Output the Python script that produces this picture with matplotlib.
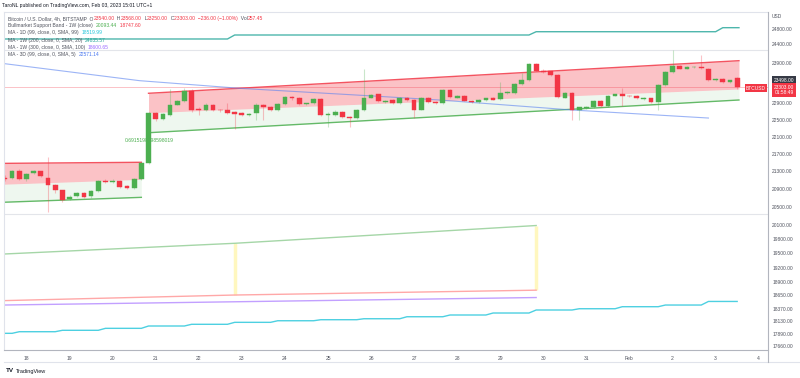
import numpy as np
import pandas as pd
import matplotlib
matplotlib.use('Agg')
import matplotlib.pyplot as plt
from matplotlib.lines import Line2D
from matplotlib.ticker import NullLocator, NullFormatter

plt.rcParams['font.family'] = ['Liberation Sans', 'DejaVu Sans']

# BTCUSD 4h candles (BITSTAMP), first candle Jan 17 12:00
candle_start = '2023-01-17 12:00'
opens = [21140, 21147, 21306, 21110, 21260, 21290, 21140, 20980, 20860, 20665,
         20735, 20800, 20725, 20850, 21070, 21050, 21065, 20950, 20920, 21125,
         21480, 22658, 22530, 22620, 22870, 22950, 23215, 22760, 22738, 22870,
         22740, 22750, 22690, 22670, 22620, 22660, 22860, 22820, 22740, 22880,
         23060, 23040, 22890, 22900, 23000, 22610, 22610, 22690, 22570, 22540,
         22740, 23040, 23120, 22940, 22980, 22910, 23040, 22980, 22750, 23040,
         22940, 22900, 23230, 23040, 23080, 22970, 22940, 22990, 23030, 23010,
         23160, 23160, 23380, 23470, 23880, 23720, 23700, 23610, 23040, 23160,
         22750, 22790, 22800, 22960, 22840, 23090, 23120, 23090, 23080, 23010,
         23020, 22930, 23350, 23690, 23830, 23770, 23800, 23820, 23770, 23470,
         23500, 23420, 23540]
highs = [21200, 21330, 21340, 21260, 21320, 21310, 21620, 21000, 20880, 20760,
         20830, 20830, 20870, 21100, 21120, 21110, 21090, 20990, 21130, 21500,
         22700, 22700, 22660, 23250, 22990, 23280, 23250, 22800, 22900, 22890,
         22760, 22920, 22710, 22690, 22670, 22920, 22880, 22840, 22900, 23090,
         23080, 23060, 22920, 23020, 23020, 22680, 22730, 22710, 22590, 22760,
         23760, 23130, 23140, 22990, 23000, 23060, 23060, 23000, 23060, 23060,
         22960, 23250, 23250, 23100, 23100, 22990, 23000, 23040, 23050, 23420,
         23200, 23400, 23650, 23900, 23920, 23760, 23720, 23630, 23180, 23180,
         22820, 22830, 22980, 22980, 23100, 23140, 23290, 23110, 23100, 23060,
         23040, 23370, 23710, 24250, 23850, 23830, 23840, 24110, 23790, 23520,
         23540, 23490, 23568]
lows = [21080, 21120, 21090, 21080, 21240, 21160, 20380, 20800, 20600, 20640,
        20710, 20700, 20700, 20830, 21030, 21020, 20920, 20890, 20900, 21100,
        21450, 22480, 22500, 22600, 22850, 22930, 22700, 22620, 22720, 22720,
        22700, 22650, 22270, 22600, 22600, 22500, 22500, 22720, 22720, 22860,
        22990, 22860, 22870, 22880, 22590, 22330, 22590, 22550, 22330, 22520,
        22720, 23020, 22930, 22920, 22890, 22890, 22960, 22540, 22730, 22920,
        22880, 22880, 23040, 23020, 22950, 22920, 22920, 22970, 22980, 22990,
        23140, 23140, 23360, 23450, 23700, 23660, 23590, 23030, 23020, 22494,
        22494, 22770, 22780, 22820, 22820, 23070, 22840, 23050, 23000, 22990,
        22910, 22740, 23330, 23670, 23750, 23750, 23780, 23770, 23460, 23450,
        23400, 23400, 23250]
closes = [21110, 21306, 21110, 21231, 21290, 21185, 20980, 20860, 20650, 20720,
          20795, 20720, 20850, 21070, 21055, 21070, 20940, 20920, 21110, 21480,
          22658, 22530, 22630, 22870, 22950, 23215, 22738, 22730, 22870, 22738,
          22735, 22670, 22650, 22620, 22650, 22860, 22810, 22740, 22880, 23060,
          23020, 22880, 22900, 23000, 22610, 22650, 22700, 22570, 22540, 22740,
          23040, 23100, 22950, 22970, 22910, 23040, 22980, 22750, 23040, 22940,
          22900, 23230, 23060, 23080, 22970, 22940, 22980, 23020, 22995, 23160,
          23180, 23380, 23470, 23880, 23720, 23680, 23610, 23060, 23160, 22750,
          22800, 22810, 22960, 22840, 23080, 23120, 23090, 23070, 23020, 23040,
          22930, 23350, 23690, 23830, 23770, 23800, 23820, 23790, 23480, 23500,
          23420, 23470, 23303]
last_close = 23303

# channel drawings (upper / middle / lower edge)
chan1_dates = ['2023-01-17 11:00', '2023-01-20 16:00']
chan1_top = [21474, 21499]
chan1_mid = [20999, 21109]
chan1_bot = [20597, 20706]
chan2_dates = ['2023-01-20 20:00', '2023-02-03 13:00']
chan2_top = [23149, 23972]
chan2_mid = [22672, 23255]
chan2_bot = [22191, 22983]
chan_label = '0.6915198598598019'

# MA - 1W (200) step line
ma1w200_dates = ['2023-01-17 08:00', '2023-01-22 16:00', '2023-01-22 20:00', '2023-01-29 16:00',
                 '2023-01-29 20:00', '2023-02-03 00:00', '2023-02-03 04:00', '2023-02-03 13:00']
ma1w200 = [24536, 24536, 24641, 24641, 24728, 24728, 24835, 24835]

# MA - 3D (99)
ma3d_dates = ['2023-01-17 11:00', '2023-01-20 15:00', '2023-01-22 23:00', '2023-01-26 01:00',
              '2023-01-27 14:00', '2023-01-30 16:00', '2023-02-02 20:00']
ma3d = [23900, 23464, 23272, 23082, 22983, 22738, 22543]

# MA - 1D (99), one value per day Jan 17 .. Feb 3
ma1d_days = pd.date_range('2023-01-17', '2023-02-03', freq='D')
ma1d = [17898, 17929, 17956, 17994, 18039, 18072, 18110, 18141, 18161,
        18180, 18219, 18253, 18292, 18351, 18376, 18416, 18449, 18520]

# Bullmarket support band (1W) and MA - 1W (300)
band_dates = ['2023-01-17 11:00', '2023-01-22 20:00', '2023-01-29 20:00']
band_upper = [19485, 19711, 20090]
band_lower = [18536, 18648, 18745]
ma1w300_dates = ['2023-01-17 11:00', '2023-01-29 20:00']
ma1w300 = [18449, 18598]

guide_levels = [24250, 20338]

price_ticks = [24800, 24400, 23900, 22900, 22500, 22100, 21700, 21300, 20900, 20500,
               20100, 19800, 19500, 19200, 18900, 18650, 18370, 18130, 17890, 17660]
day_ticks = list(range(18, 36))
day_labels = [str(d) for d in range(18, 32)] + ['Feb', '2', '3', '4']

W, H = 800, 378
GREEN = '#4caf50'
RED = '#f23645'


def to_days(s):
    return (pd.to_datetime(s) - pd.Timestamp('2023-01-01')) / pd.Timedelta(days=1) + 1


fig = plt.figure(figsize=(W / 100, H / 100), dpi=100)
ax = fig.add_axes([4 / W, 28 / H, 764 / W, 338 / H])
ax.set_yscale('log')
ax.set_xlim(17.478, 35.216)
ax.set_ylim(17581, 25256)
for s in ax.spines.values():
    s.set_visible(False)

# guide lines
for lv in guide_levels:
    ax.axhline(lv, color='#e3e5ea', lw=0.8, zorder=0)
ax.axhline(last_close, color=RED, alpha=0.3, lw=0.7, zorder=1)

# channels
for dates, top, mid, bot in [(chan1_dates, chan1_top, chan1_mid, chan1_bot),
                             (chan2_dates, chan2_top, chan2_mid, chan2_bot)]:
    xd = to_days(dates)
    ax.fill_between(xd, mid, top, color=RED, alpha=0.3, lw=0, zorder=1)
    ax.fill_between(xd, bot, mid, color=GREEN, alpha=0.09, lw=0, zorder=1)
    ax.plot(xd, top, color=RED, lw=1.0, alpha=0.85, zorder=2)
    ax.plot(xd, bot, color=GREEN, lw=1.0, alpha=0.85, zorder=2)
ax.text(20.28, 22010, chan_label, color=GREEN, fontsize=3.6, va='center', ha='left', zorder=2)

# indicator lines
ax.plot(to_days(ma1w200_dates), ma1w200, color='#4db6ac', lw=1.0, zorder=3)
ax.plot(to_days(ma3d_dates), ma3d, color='#5b83f0', lw=0.8, alpha=0.6, zorder=3)
bx = to_days(band_dates)
ax.plot(bx, band_upper, color='#a5d6a7', lw=1.0, zorder=3)
ax.plot(bx, band_lower, color='#ffa8a8', lw=1.0, zorder=3)
ax.vlines(bx[1:], band_lower[1:], band_upper[1:], color='#fff7bf', lw=2.5, zorder=2)
ax.plot(to_days(ma1w300_dates), ma1w300, color='#b388ff', lw=1.0, alpha=0.8, zorder=3)

# daily MA stepped on the 4h grid
dd = to_days(ma1d_days)
sx, sy = [], []
for d, v in zip(dd, ma1d):
    sx += [d - 1 / 6, d + 4 / 6]
    sy += [v, v]
sx = np.clip(sx, None, 34.5)
ax.plot(sx, sy, color='#4dd0e1', lw=1.0, zorder=3)

# candles
n = len(closes)
t = pd.date_range(candle_start, periods=n, freq='4h')
cx = to_days(t)
o = np.array(opens); c = np.array(closes); hi = np.array(highs); lo = np.array(lows)
cols = np.where(c >= o, GREEN, RED)
ax.vlines(cx, lo, hi, colors=cols, lw=0.8, alpha=0.3, zorder=4)
bottom = np.minimum(o, c)
height = np.maximum(np.abs(c - o), 8)
ax.bar(cx, height, bottom=bottom, width=0.11, color=cols, edgecolor=cols, lw=0.3, zorder=5)

# axes ticks
ax.set_xticks(day_ticks)
ax.set_xticklabels(day_labels)
ax.yaxis.tick_right()
ax.set_yticks(price_ticks)
ax.set_yticklabels([f'{v:.2f}' for v in price_ticks])
ax.yaxis.set_minor_locator(NullLocator())
ax.yaxis.set_minor_formatter(NullFormatter())
ax.tick_params(axis='x', length=0, pad=4, labelsize=3.6, labelcolor='#50535e')
ax.tick_params(axis='y', length=0, pad=3, labelsize=3.5, labelcolor='#50535e')


# frame lines
def fline(x0, y0, x1, y1, color='#e0e3eb', lw=0.8):
    fig.add_artist(Line2D([x0 / W, x1 / W], [1 - y0 / H, 1 - y1 / H], color=color, lw=lw))


fline(4, 12, 768, 12)
fline(4, 12, 4, 350)
fline(4, 350, 768, 350, color='#b2b5be')
fline(4, 362, 800, 362)
fline(768, 12, 768, 362, color='#b2b5be')

# right axis boxes
fig.text(772 / W, 1 - 16 / H, 'USD', fontsize=3.5, color='#50535e', va='center')
fig.text(784 / W, 1 - 80 / H, '23498.00', fontsize=3.5, color='white', va='center', ha='center',
         bbox=dict(boxstyle='square,pad=0.35', fc='#363a45', ec='none'))
fig.text(784 / W, 1 - 90 / H, '23303.00\n01:58:49', fontsize=3.5, color='white', va='center',
         ha='center', linespacing=1.1, bbox=dict(boxstyle='square,pad=0.35', fc=RED, ec='none'))
fig.text(756 / W, 1 - 88 / H, 'BTCUSD', fontsize=3.5, color='white', va='center', ha='center',
         bbox=dict(boxstyle='square,pad=0.3', fc=RED, ec='none'))

# header + legend
renderer = fig.canvas.get_renderer()


def line_of(x, y, parts, size=3.6):
    for s, col in parts:
        tt = fig.text(x / W, 1 - y / H, s, color=col, fontsize=size, va='center', ha='left')
        x += tt.get_window_extent(renderer).width


GRAY = '#50535e'
line_of(2, 6, [('TaroNL published on TradingView.com, Feb 03, 2023 15:01 UTC+1', '#131722')])
line_of(8, 18.3, [('Bitcoin / U.S. Dollar, 4h, BITSTAMP  O', GRAY), ('23540.00', RED), ('  H', GRAY),
                  ('23568.00', RED), ('  L', GRAY), ('23250.00', RED), ('  C', GRAY),
                  ('23303.00  \u2212236.00 (\u22121.00%)', RED), ('  Vol', GRAY), ('257.45', RED)])
line_of(8, 25.7, [('Bullmarket Support Band - 1W (close)  ', GRAY), ('20093.44', GREEN),
                  ('  18747.60', RED)])
line_of(8, 32.9, [('MA - 1D (99, close, 0, SMA, 99)  ', GRAY), ('18519.99', '#26c6da')])
line_of(8, 40.1, [('MA - 1W (200, close, 0, SMA, 20)  ', GRAY), ('24835.57', '#26a69a')])
line_of(8, 47.2, [('MA - 1W (300, close, 0, SMA, 100)  ', GRAY), ('18600.65', '#9c6cff')])
line_of(8, 54.4, [('MA - 3D (99, close, 0, SMA, 5)  ', GRAY), ('22571.14', '#4a78f0')])

fig.text(6 / W, 1 - 371 / H, 'TV', fontsize=4.5, fontweight='bold', color='#131722', va='center')
fig.text(16 / W, 1 - 371 / H, 'TradingView', fontsize=4, color='#131722', va='center')

fig.savefig('out.png', dpi=100)
